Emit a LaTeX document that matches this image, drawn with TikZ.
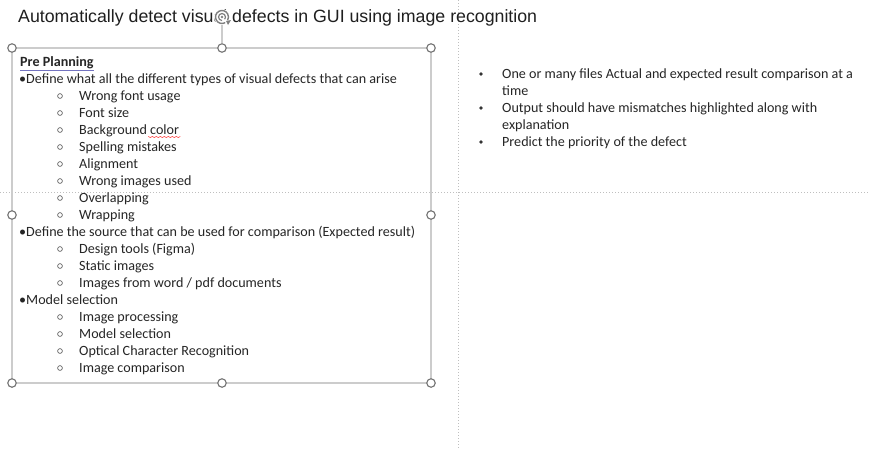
\documentclass[tikz,border=0pt]{standalone}
\usepackage{fontspec}
\setmainfont{Carlito}
\newfontfamily\titlefont{Liberation Sans}
\begin{document}
\begin{tikzpicture}[x=1pt,y=-1pt,
  txt/.style={anchor=base west,inner sep=0pt,text=black!85,font=\fontsize{14.1}{16}\selectfont},
  ttl/.style={anchor=base west,inner sep=0pt,text=black!88,font=\titlefont\fontsize{17.75}{20}\selectfont},
  guide/.style={draw=black!25,line width=0.8pt,dash pattern=on 0.8pt off 2.2pt},
  selbox/.style={draw=black!20,line width=1.1pt},
  handle/.style={circle,draw=black!55,fill=white,line width=1.1pt,minimum size=8.5pt,inner sep=0pt},
  subdot/.style={circle,draw=black!70,line width=0.6pt,minimum size=4.8pt,inner sep=0pt},
  bigdot/.style={circle,fill=black!80,minimum size=3.8pt,inner sep=0pt}]
\useasboundingbox (0,0) rectangle (870,448);
\fill[white] (0,0) rectangle (870,448);
% guides
\coordinate (gvt) at (458,0); \coordinate (gvb) at (458,448);
\coordinate (ghl) at (0,192); \coordinate (ghr) at (870,192);
\draw[guide] (gvt) -- (gvb);
\draw[guide] (ghl) -- (ghr);
% title
\node[ttl] (title) at (18,22) {Automatically detect visual defects in GUI using image recognition};
% selection box
\coordinate (bnw) at (12,48); \coordinate (bse) at (431,383);
\draw[selbox] (bnw) rectangle (bse);
\node[handle] (rot) at (222,17) {};
\node[handle] (hn) at (222,48) {};
\draw[selbox] (rot) -- (hn);
\fill[white] (222,17) circle (8);
\draw[black!50,line width=1.4pt] (222,17) ++(60:6.5) arc[start angle=60,end angle=390,radius=6.5];
\draw[black!50,line width=1.2pt] (222,17) ++(90:3.5) arc[start angle=90,end angle=400,radius=3.5];
\fill[black!50] (222,17) circle (1.3);
\fill[black!50] (226,21) -- (231,20) -- (228,25) -- cycle;
\node[handle] (hnw) at (12,48) {};
\node[handle] (hne) at (431,48) {};
\node[handle] (hw) at (12,215) {};
\node[handle] (he) at (431,215) {};
\node[handle] (hsw) at (12,383) {};
\node[handle] (hs) at (222,383) {};
\node[handle] (hse) at (431,383) {};
% left text
\node[txt,font=\bfseries\fontsize{14.1}{16}\selectfont] (pp) at (20,66) {\underline{Pre Planning}};
\draw[blue!55!black!55,line width=0.9pt] ([yshift=-4.2pt]pp.base west) -- ([yshift=-4.2pt]pp.base east);
\node[txt] (d1) at (19,83) {•Define what all the different types of visual defects that can arise};
\foreach \t [count=\i] in {Wrong font usage,Font size,Background\phantom{ color},Spelling mistakes,Alignment,Wrong images used,Overlapping,Wrapping}{
  \node[subdot] (a\i) at (60,{83+17*\i-4}) {};
  \node[txt] (at\i) at (79,{83+17*\i}) {\t};
}
\node[txt] (col) at ([xshift=3.2pt]79,134) {\phantom{Background}color};
\draw[red!80,line width=0.6pt] ([yshift=-2.5pt]col.base east) ++(-31,0) \foreach \k in {1,...,8}{ -- ++(2,1) -- ++(2,-1)};
\node[txt] (d2) at (19,236) {•Define the source that can be used for comparison (Expected result)};
\foreach \t [count=\i] in {Design tools (Figma),Static images,Images from word / pdf documents}{
  \node[subdot] (b\i) at (60,{236+17*\i-4}) {};
  \node[txt] (bt\i) at (79,{236+17*\i}) {\t};
}
\node[txt] (d3) at (19,304) {•Model selection};
\foreach \t [count=\i] in {Image processing,Model selection,Optical Character Recognition,Image comparison}{
  \node[subdot] (c\i) at (60,{304+17*\i-4}) {};
  \node[txt] (ct\i) at (79,{304+17*\i}) {\t};
}
% right text
\node[bigdot] (r1) at (481,74) {};
\node[txt] (rt1) at (502,78) {One or many files Actual and expected result comparison at a};
\node[txt] (rt1b) at (502,95) {time};
\node[bigdot] (r2) at (481,108) {};
\node[txt] (rt2) at (502,112) {Output should have mismatches highlighted along with};
\node[txt] (rt2b) at (502,129) {explanation};
\node[bigdot] (r3) at (481,142) {};
\node[txt] (rt3) at (502,146) {Predict the priority of the defect};
\end{tikzpicture}
\end{document}
